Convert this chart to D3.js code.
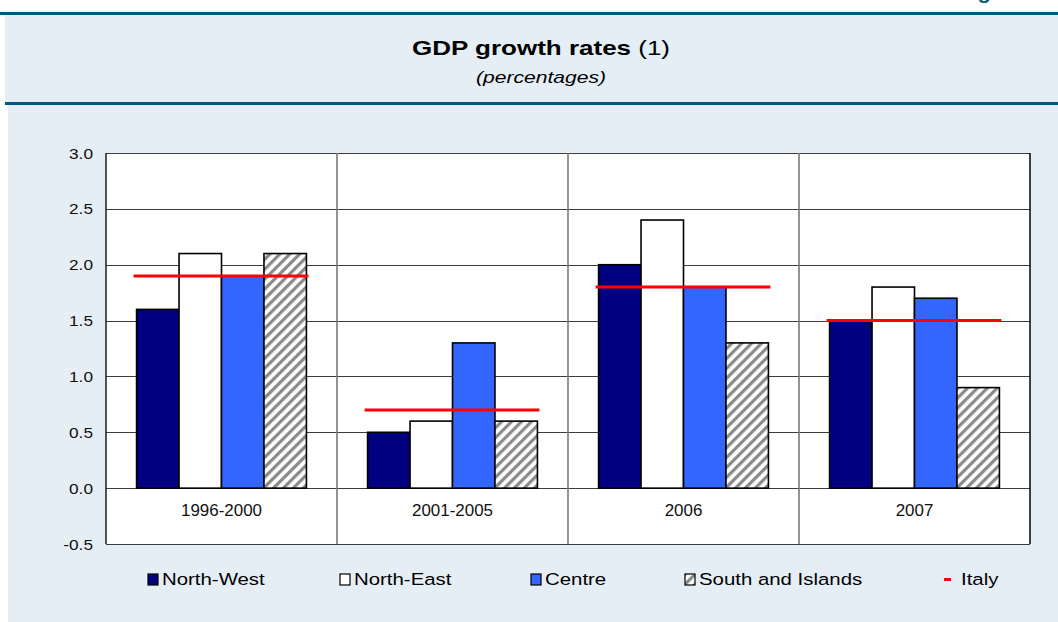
<!DOCTYPE html>
<html>
<head>
<meta charset="utf-8">
<script src="https://cdn.jsdelivr.net/npm/d3@7"></script>
<style>
  html, body { margin: 0; padding: 0; background: #ffffff; }
  svg { display: block; font-family: "Liberation Sans", Arial, sans-serif; }
</style>
</head>
<body>
<svg id="chart" width="1058" height="622"></svg>
<script>
// GDP growth rates by macro-area (percentages)
const categories = ["1996-2000", "2001-2005", "2006", "2007"];
const seriesNames = ["North-West", "North-East", "Centre", "South and Islands"];
const northWest = [1.6, 0.5, 2.0, 1.5];
const northEast = [2.1, 0.6, 2.4, 1.8];
const centre = [1.9, 1.3, 1.8, 1.7];
const southIslands = [2.1, 0.6, 1.3, 0.9];
const italy = [1.9, 0.7, 1.8, 1.5];
const yTicks = [-0.5, 0.0, 0.5, 1.0, 1.5, 2.0, 2.5, 3.0];

const seriesValues = [northWest, northEast, centre, southIslands];
const fills = ["#000080", "#ffffff", "#3366ff", "url(#hatch)"];

const svg = d3.select("#chart");

// Hatch fill for South and Islands
const defs = svg.append("defs");
const pat = defs.append("pattern")
  .attr("id", "hatch")
  .attr("patternUnits", "userSpaceOnUse")
  .attr("width", 7).attr("height", 7)
  .attr("patternTransform", "rotate(45)");
pat.append("rect").attr("width", 7).attr("height", 7).attr("fill", "#ffffff");
pat.append("rect").attr("x", 0).attr("width", 3.2).attr("height", 7).attr("fill", "#8a8a8a");

// Helper: horizontally widened text
function label(parent, x, y, txt, opts) {
  const o = Object.assign({size: 14, sx: 1.15, anchor: "start", weight: "normal", style: "normal", fill: "#000"}, opts || {});
  return parent.append("text")
    .attr("transform", `translate(${x},${y}) scale(${o.sx},1)`)
    .attr("text-anchor", o.anchor)
    .attr("font-size", o.size)
    .attr("font-weight", o.weight)
    .attr("font-style", o.style)
    .attr("fill", o.fill)
    .text(txt);
}

// Page header band
label(svg, 984, -1.5, "g", {size: 18, sx: 1.2, anchor: "middle", weight: "bold", fill: "#00577f"});
svg.append("rect").attr("x", 0).attr("y", 12).attr("width", 1058).attr("height", 3).attr("fill", "#00577f");
svg.append("rect").attr("x", 5).attr("y", 15).attr("width", 1053).attr("height", 87).attr("fill", "#e6eef5");
svg.append("rect").attr("x", 5).attr("y", 102).attr("width", 1053).attr("height", 3).attr("fill", "#00577f");
svg.append("rect").attr("x", 8).attr("y", 105).attr("width", 1050).attr("height", 517).attr("fill", "#e6eef5");

// Title
const title = svg.append("text")
  .attr("transform", "translate(541,55) scale(1.3,1)")
  .attr("text-anchor", "middle")
  .attr("font-size", 20)
  .attr("fill", "#000");
title.append("tspan").attr("font-weight", "bold").text("GDP growth rates");
title.append("tspan").text(" (1)");
label(svg, 541, 83, "(percentages)", {size: 16, sx: 1.32, anchor: "middle", style: "italic"});

// Plot area
const plot = {left: 106, right: 1030, top: 153, bottom: 544};

const x = d3.scaleBand().domain(categories).range([plot.left, plot.right]).padding(0);
const inner = d3.scaleBand().domain(seriesNames).range([0, x.bandwidth()])
  .paddingInner(0).paddingOuter(0.72);
const y = d3.scaleLinear().domain([-0.5, 3.0]).range([plot.bottom, plot.top]);

svg.append("rect")
  .attr("x", plot.left).attr("y", plot.top)
  .attr("width", plot.right - plot.left).attr("height", plot.bottom - plot.top)
  .attr("fill", "#ffffff");

// Horizontal gridlines
svg.append("g").selectAll("line").data(yTicks).join("line")
  .attr("x1", plot.left).attr("x2", plot.right)
  .attr("y1", d => Math.round(y(d)) + 0.5).attr("y2", d => Math.round(y(d)) + 0.5)
  .attr("stroke", "#3c3c3c").attr("stroke-width", 1.2);

// Vertical group separators
svg.append("g").selectAll("line").data(categories.slice(1)).join("line")
  .attr("x1", d => x(d)).attr("x2", d => x(d))
  .attr("y1", plot.top).attr("y2", plot.bottom)
  .attr("stroke", "#7a7a7a").attr("stroke-width", 1.6);

// Y axis line and labels
svg.append("line")
  .attr("x1", plot.left).attr("x2", plot.left)
  .attr("y1", plot.top).attr("y2", plot.bottom)
  .attr("stroke", "#1a1a1a").attr("stroke-width", 1.5);
svg.append("line")
  .attr("x1", plot.right).attr("x2", plot.right)
  .attr("y1", plot.top).attr("y2", plot.bottom)
  .attr("stroke", "#000").attr("stroke-width", 1.5);
const fmt = t => t.toFixed(1);
const yLab = svg.append("g");
yTicks.forEach(t => {
  label(yLab, 93, y(t) + 5.5, fmt(t), {size: 15, sx: 1.15, anchor: "end", fill: "#111"});
});

// Bars
const groups = svg.append("g").selectAll("g").data(categories).join("g")
  .attr("transform", d => `translate(${x(d)},0)`);
groups.selectAll("rect")
  .data((c, ci) => seriesNames.map((s, si) => ({s, si, v: seriesValues[si][ci]})))
  .join("rect")
  .attr("x", d => inner(d.s))
  .attr("width", inner.bandwidth())
  .attr("y", d => y(Math.max(0, d.v)))
  .attr("height", d => Math.abs(y(d.v) - y(0)))
  .attr("fill", d => fills[d.si])
  .attr("stroke", "#000").attr("stroke-width", 1.6);

// Italy average line
groups.append("line")
  .attr("x1", inner(seriesNames[0]) - 3)
  .attr("x2", inner(seriesNames[3]) + inner.bandwidth() + 2)
  .attr("y1", (c, i) => y(italy[i])).attr("y2", (c, i) => y(italy[i]))
  .attr("stroke", "#ff0000").attr("stroke-width", 3);

// Category labels
categories.forEach(c => {
  label(svg, x(c) + x.bandwidth() / 2, 516, c, {size: 16, sx: 1.06, anchor: "middle", fill: "#111"});
});

// Legend
const legendItems = [
  {name: "North-West", kind: "box", fill: fills[0], x: 148},
  {name: "North-East", kind: "box", fill: fills[1], x: 340},
  {name: "Centre", kind: "box", fill: fills[2], x: 531},
  {name: "South and Islands", kind: "box", fill: fills[3], x: 685},
  {name: "Italy", kind: "line", fill: "#ff0000", x: 944}
];
const legend = svg.append("g");
legendItems.forEach(it => {
  if (it.kind === "box") {
    legend.append("rect")
      .attr("x", it.x).attr("y", 574).attr("width", 10).attr("height", 11)
      .attr("fill", it.fill).attr("stroke", "#000").attr("stroke-width", 1.2);
    label(legend, it.x + 14, 585, it.name, {size: 17, sx: 1.2, fill: "#000"});
  } else {
    legend.append("line")
      .attr("x1", it.x).attr("x2", it.x + 7)
      .attr("y1", 579.5).attr("y2", 579.5)
      .attr("stroke", it.fill).attr("stroke-width", 3);
    label(legend, it.x + 17, 585, it.name, {size: 17, sx: 1.2, fill: "#000"});
  }
});
</script>
</body>
</html>
